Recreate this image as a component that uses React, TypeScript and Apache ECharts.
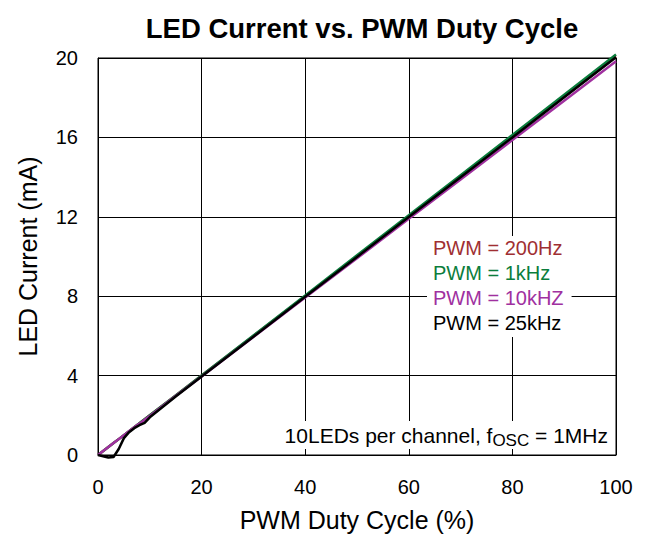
import React, { useEffect, useRef } from "react";
import * as echarts from "echarts";

const duty = [0, 1, 2, 3, 4, 5, 6, 7, 8, 9, 10, 15, 20, 30, 40, 50, 60, 70, 80, 90, 100];
const pwm200Hz = [0, 0.2, 0.4, 0.6, 0.8, 1.0, 1.2, 1.4, 1.6, 1.8, 2.0, 3.0, 4.0, 6.0, 8.0, 10.0, 12.02, 14.03, 16.05, 18.05, 20.08];
const pwm1kHz = [0, 0.2, 0.4, 0.6, 0.8, 1.0, 1.2, 1.4, 1.6, 1.8, 2.0, 3.0, 4.0, 6.02, 8.03, 10.06, 12.08, 14.1, 16.12, 18.15, 20.18];
const pwm10kHz = [0, 0.2, 0.4, 0.6, 0.8, 1.0, 1.2, 1.4, 1.58, 1.77, 1.97, 2.97, 3.96, 5.94, 7.93, 9.91, 11.9, 13.88, 15.87, 17.85, 19.84];
const pwm25kHz = [0, -0.06, -0.13, -0.1, 0.3, 0.85, 1.15, 1.35, 1.5, 1.62, 1.9, 2.95, 3.95, 5.96, 7.97, 9.98, 11.99, 13.99, 16.0, 18.02, 20.04];

const seriesNames = ["PWM = 200Hz", "PWM = 1kHz", "PWM = 10kHZ", "PWM = 25kHz"];
const seriesColors = ["#a02f32", "#0b7d3c", "#a0309f", "#000000"];
const seriesValues = [pwm200Hz, pwm1kHz, pwm10kHz, pwm25kHz];

const xTicks = { min: 0, max: 100, interval: 20 };
const yTicks = { min: 0, max: 20, interval: 4 };

const FONT = "'Liberation Sans', Arial, Helvetica, sans-serif";

export default function App() {
  const ref = useRef<HTMLDivElement>(null);
  useEffect(() => {
    if (!ref.current) return;
    const chart = echarts.init(ref.current, undefined, { renderer: "svg" });
    const series = seriesNames.map((name, i) => ({
      name,
      type: "line",
      data: duty.map((d, j) => [d, seriesValues[i][j]]),
      showSymbol: false,
      symbol: "none",
      clip: false,
      lineStyle: { color: seriesColors[i], width: 2.5 },
      itemStyle: { color: seriesColors[i] },
      z: 3 + i,
    }));
    chart.setOption({
      animation: false,
      backgroundColor: "#ffffff",
      textStyle: { fontFamily: FONT },
      title: {
        text: "LED Current vs. PWM Duty Cycle",
        left: 357,
        textAlign: "center",
        top: 9,
        textStyle: { fontFamily: FONT, fontSize: 27.5, fontWeight: "bold", color: "#000" },
      },
      grid: {
        left: 98,
        right: 32,
        top: 58,
        bottom: 79,
        show: true,
        borderColor: "#000",
        borderWidth: 1,
        containLabel: false,
      },
      legend: {
        data: seriesNames.map((n, i) => ({ name: n, textStyle: { color: seriesColors[i] } })),
        orient: "vertical",
        left: 427,
        top: 236,
        icon: "none",
        itemWidth: 0,
        itemHeight: 20,
        itemGap: 5,
        padding: [2, 8, 4, 1],
        backgroundColor: "#ffffff",
        textStyle: { fontFamily: FONT, fontSize: 20, lineHeight: 20 },
        selectedMode: false,
        z: 10,
      },
      xAxis: {
        type: "value",
        min: xTicks.min,
        max: xTicks.max,
        interval: xTicks.interval,
        name: "PWM Duty Cycle (%)",
        nameLocation: "middle",
        nameGap: 52,
        nameTextStyle: { fontFamily: FONT, fontSize: 25, color: "#000" },
        axisLine: { show: true, lineStyle: { color: "#000", width: 1 } },
        axisTick: { show: false },
        axisLabel: { fontFamily: FONT, fontSize: 20, color: "#000", margin: 22 },
        splitLine: { show: true, lineStyle: { color: "#000", width: 1 } },
      },
      yAxis: {
        type: "value",
        min: yTicks.min,
        max: yTicks.max,
        interval: yTicks.interval,
        name: "LED Current (mA)",
        nameLocation: "middle",
        nameGap: 58,
        nameTextStyle: { fontFamily: FONT, fontSize: 25, color: "#000" },
        axisLine: { show: true, lineStyle: { color: "#000", width: 1 } },
        axisTick: { show: false },
        axisLabel: { fontFamily: FONT, fontSize: 20, color: "#000", margin: 20 },
        splitLine: { show: true, lineStyle: { color: "#000", width: 1 } },
      },
      graphic: [
        {
          type: "text",
          right: 36,
          top: 421,
          z: 100,
          style: {
            text: "{n|10LEDs per channel, f}{s|OSC}{n| = 1MHz}",
            fill: "#000",
            backgroundColor: "#ffffff",
            padding: [3, 4, 3, 4],
            rich: {
              n: { fontFamily: FONT, fontSize: 21, fill: "#000", verticalAlign: "bottom", lineHeight: 22 },
              s: { fontFamily: FONT, fontSize: 17, fill: "#000", verticalAlign: "bottom", lineHeight: 22, padding: [0, 0, -3, 0] },
            },
          },
        },
      ],
      series,
    });
    return () => chart.dispose();
  }, []);
  return (
    <div
      ref={ref}
      style={{ position: "absolute", left: 0, top: 0, width: 648, height: 537 }}
    />
  );
}
